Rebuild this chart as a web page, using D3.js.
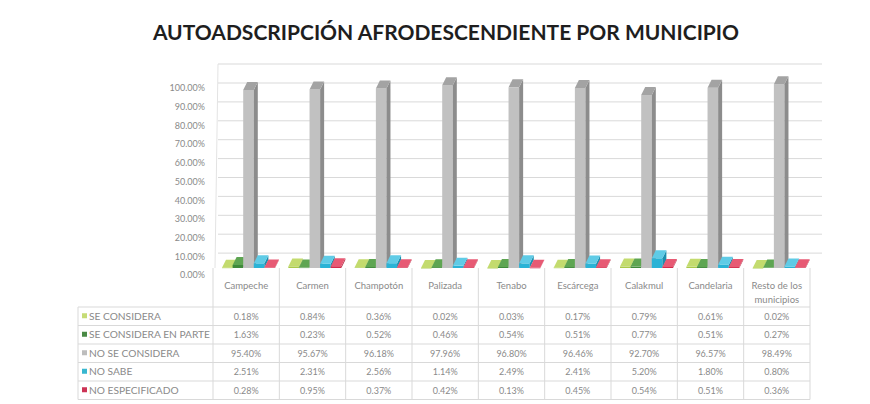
<!DOCTYPE html>
<html>
<head>
<meta charset="utf-8">
<script src="https://cdn.jsdelivr.net/npm/d3@7"></script>
<style>
  body { margin: 0; background: #fff; }
  svg { display: block; font-family: Lato, "Open Sans", sans-serif; }
</style>
</head>
<body>
<div id="chart"></div>
<script>
const W = 870, H = 404;

const municipios = ["Campeche", "Carmen", "Champotón", "Palizada", "Tenabo",
    "Escárcega", "Calakmul", "Candelaria", "Resto de los municipios"];
const series = ["SE CONSIDERA", "SE CONSIDERA EN PARTE", "NO SE CONSIDERA", "NO SABE", "NO ESPECIFICADO"];

const seConsidera    = [0.18, 0.84, 0.36, 0.02, 0.03, 0.17, 0.79, 0.61, 0.02];
const enParte        = [1.63, 0.23, 0.52, 0.46, 0.54, 0.51, 0.77, 0.51, 0.27];
const noSeConsidera  = [95.40, 95.67, 96.18, 97.96, 96.80, 96.46, 92.70, 96.57, 98.49];
const noSabe         = [2.51, 2.31, 2.56, 1.14, 2.49, 2.41, 5.20, 1.80, 0.80];
const noEspecificado = [0.28, 0.95, 0.37, 0.42, 0.13, 0.45, 0.54, 0.51, 0.36];

const yTicks = d3.range(0, 101, 10);

const values = [seConsidera, enParte, noSeConsidera, noSabe, noEspecificado];
const colors = [
    {front: "#a9c94a", top: "#c3db6e", side: "#8aa836", key: "#c6dc76"},
    {front: "#3f8a3a", top: "#5ea552", side: "#2f6c2c", key: "#4a8a45"},
    {front: "#c1c1c1", top: "#a3a3a3", side: "#8c8c8c", key: "#bdbdbd"},
    {front: "#2ab3d6", top: "#5fcbe6", side: "#1c8fae", key: "#38b7d0"},
    {front: "#d42a4b", top: "#e75a74", side: "#a81e38", key: "#cc3355"}
];
const textGray = "#8a8a8a";

const svg = d3.select("#chart").append("svg")
    .attr("width", W)
    .attr("height", H);

// title
svg.append("text")
    .attr("x", 446).attr("y", 40)
    .attr("text-anchor", "middle")
    .attr("font-size", 21)
    .attr("font-weight", 700)
    .attr("fill", "#1e1e1e")
    .text("AUTOADSCRIPCIÓN AFRODESCENDIENTE POR MUNICIPIO");

// scales
const x = d3.scaleBand().domain(municipios).range([213, 810]);
const xs = d3.scaleBand().domain(series).range([9, 62]);
const yBar = d3.scaleLinear().domain([0, 100]).range([268, 81.4]);
const yGrid = d3.scaleLinear().domain([0, 100]).range([272, 83]);
const yLab = d3.scaleLinear().domain([0, 100]).range([275, 88]);

// back wall
const wall = svg.append("g");
wall.append("line")
    .attr("x1", 218).attr("x2", 822).attr("y1", 64).attr("y2", 64)
    .attr("stroke", "#d9d9d9");
wall.append("line")
    .attr("x1", 218).attr("x2", 215).attr("y1", 64).attr("y2", 268)
    .attr("stroke", "#e3e3e3");
wall.selectAll(".grid").data(yTicks.filter(d => d > 0))
    .enter().append("line")
    .attr("class", "grid")
    .attr("x1", 218).attr("x2", 822)
    .attr("y1", d => yGrid(d)).attr("y2", d => yGrid(d))
    .attr("stroke", "#d9d9d9");

// y axis labels
svg.append("g")
    .attr("transform", "translate(205,0)")
    .call(d3.axisLeft(yLab).tickValues(yTicks).tickSize(0).tickPadding(0)
        .tickFormat(d => d3.format(".2f")(d) + "%"))
    .call(g => g.select(".domain").remove())
    .call(g => g.selectAll("text")
        .attr("font-family", "Lato, sans-serif")
        .attr("font-size", 9)
        .attr("fill", textGray));

// bars
const dx = 4, dy = -8;
const bw = xs.bandwidth();
const bars = svg.append("g");
municipios.forEach((m, i) => {
    series.forEach((s, j) => {
        const v = values[j][i];
        const x0 = x(m) + xs(s), x1 = x0 + bw;
        const yt = yBar(v), y0 = yBar(0);
        const c = colors[j];
        const g = bars.append("g");
        g.append("rect")
            .attr("x", x0).attr("y", yt)
            .attr("width", bw).attr("height", Math.max(0.5, y0 - yt))
            .attr("fill", c.front);
        g.append("path")
            .attr("d", `M${x1},${yt}L${x1 + dx},${yt + dy}L${x1 + dx},${y0 + dy}L${x1},${y0}Z`)
            .attr("fill", c.side);
        g.append("path")
            .attr("d", `M${x0},${yt}L${x0 + dx},${yt + dy}L${x1 + dx},${yt + dy}L${x1},${yt}Z`)
            .attr("fill", c.top);
    });
});

// data table
const tLeft = 78, headTop = 268, headBottom = 307, rowH = 18.5;
const tRight = x.range()[1];
const tbl = svg.append("g").attr("stroke", "#d9d9d9").attr("stroke-width", 1);
const colEdges = municipios.map(m => x(m)).concat([tRight]);
tbl.selectAll(".vcol").data(colEdges)
    .enter().append("line")
    .attr("x1", d => d).attr("x2", d => d)
    .attr("y1", headTop).attr("y2", headBottom + rowH * series.length);
tbl.append("line")
    .attr("x1", tLeft).attr("x2", tLeft)
    .attr("y1", headBottom).attr("y2", headBottom + rowH * series.length);
tbl.selectAll(".hrow").data(d3.range(series.length + 1))
    .enter().append("line")
    .attr("x1", tLeft).attr("x2", tRight)
    .attr("y1", d => headBottom + d * rowH).attr("y2", d => headBottom + d * rowH);

// category names
const cat = svg.append("g")
    .attr("font-size", 9.5).attr("fill", textGray).attr("text-anchor", "middle");
municipios.forEach(m => {
    const cx = x(m) + x.bandwidth() / 2;
    if (m === "Resto de los municipios") {
        cat.append("text").attr("x", cx).attr("y", 289).text("Resto de los");
        cat.append("text").attr("x", cx).attr("y", 303).text("municipios");
    } else {
        cat.append("text").attr("x", cx).attr("y", 289).text(m);
    }
});

// rows: legend keys + values
const fmt = d => d3.format(".2f")(d) + "%";
series.forEach((s, j) => {
    const cy = headBottom + j * rowH + rowH / 2;
    svg.append("rect")
        .attr("x", 82).attr("y", cy - 3)
        .attr("width", 5).attr("height", 5)
        .attr("fill", colors[j].key);
    svg.append("text")
        .attr("x", 89).attr("y", cy + 3.5)
        .attr("font-size", 10.2).attr("fill", textGray)
        .text(s);
    municipios.forEach((m, i) => {
        svg.append("text")
            .attr("x", x(m) + x.bandwidth() / 2).attr("y", cy + 3.5)
            .attr("text-anchor", "middle")
            .attr("font-size", 9).attr("fill", textGray)
            .text(fmt(values[j][i]));
    });
});
</script>
</body>
</html>
